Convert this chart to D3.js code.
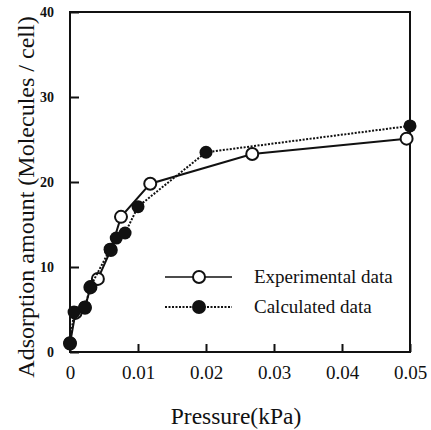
<!DOCTYPE html>
<html>
<head>
<meta charset="utf-8">
<script src="https://cdn.jsdelivr.net/npm/d3@7"></script>
<style>
  body { margin: 0; background: #fff; }
  svg text { font-family: "Liberation Serif", "Times New Roman", Times, serif; fill: #111; }
</style>
</head>
<body>
<div id="chart-area"></div>
<script>
var xTicks = [0, 0.01, 0.02, 0.03, 0.04, 0.05];
var yTicks = [0, 10, 20, 30, 40];

var expPressure = [0, 0.0008, 0.0022, 0.003, 0.0041, 0.006, 0.0075, 0.0118, 0.0268, 0.0495];
var expAmount   = [1.0, 4.6, 5.2, 7.6, 8.6, 12.0, 15.9, 19.8, 23.3, 25.1];

var calcPressure = [0, 0.0006, 0.0022, 0.003, 0.0059, 0.0068, 0.0081, 0.0100, 0.0200, 0.0500];
var calcAmount   = [1.1, 4.7, 5.3, 7.7, 12.1, 13.4, 14.0, 17.1, 23.5, 26.6];

var legendLabels = ["Experimental data", "Calculated data"];

var serif = "'Liberation Serif', 'Times New Roman', Times, serif";

var margin = { left: 70, top: 12, right: 21, bottom: 78 };
var width = 431 - margin.left - margin.right;
var height = 430 - margin.top - margin.bottom;

var x = d3.scaleLinear().domain([0, 0.05]).range([0, width]);
var y = d3.scaleLinear().domain([0, 40]).range([height, 0]);

var svg = d3.select("#chart-area")
  .append("svg")
  .attr("width", 431)
  .attr("height", 430)
  .attr("font-family", serif);

var g = svg.append("g")
  .attr("transform", "translate(" + margin.left + "," + margin.top + ")");

// frame
g.append("rect")
  .attr("width", width)
  .attr("height", height)
  .attr("fill", "none")
  .attr("stroke", "#111")
  .attr("stroke-width", 2);

// inside ticks
var yAxis = d3.axisLeft(y).tickValues(yTicks).tickSize(-9).tickPadding(16)
  .tickFormat(d3.format("d"));
var yg = g.append("g").call(yAxis).attr("font-family", serif);
yg.select(".domain").remove();
yg.selectAll("line").attr("stroke", "#111").attr("stroke-width", 2);
yg.selectAll("text").attr("font-size", 14).attr("font-weight", "bold");

var xAxis = d3.axisBottom(x).tickValues(xTicks).tickSize(-8).tickPadding(14)
  .tickFormat(function(d) { return d === 0 ? "0" : d3.format(".2f")(d); });
var xg = g.append("g").attr("transform", "translate(0," + height + ")").call(xAxis)
  .attr("font-family", serif);
xg.select(".domain").remove();
xg.selectAll("line").attr("stroke", "#111").attr("stroke-width", 2);
xg.selectAll("text").attr("font-size", 19);

// axis titles
svg.append("text")
  .attr("x", 236)
  .attr("y", 424)
  .attr("text-anchor", "middle")
  .attr("font-size", 23.5)
  .text("Pressure(kPa)");

svg.append("text")
  .attr("transform", "translate(34,197) rotate(-90)")
  .attr("text-anchor", "middle")
  .attr("font-size", 24)
  .text("Adsorption amount (Molecules / cell)");

function zip(px, py) {
  return px.map(function(p, i) { return { p: p, v: py[i] }; });
}
var expData = zip(expPressure, expAmount);
var calcData = zip(calcPressure, calcAmount);

var line = d3.line()
  .x(function(d) { return x(d.p); })
  .y(function(d) { return y(d.v); });

// experimental: solid line, open circles
g.append("path")
  .datum(expData)
  .attr("d", line)
  .attr("fill", "none")
  .attr("stroke", "#111")
  .attr("stroke-width", 2);

g.selectAll("circle.exp")
  .data(expData)
  .enter()
  .append("circle")
  .attr("class", "exp")
  .attr("cx", function(d) { return x(d.p); })
  .attr("cy", function(d) { return y(d.v); })
  .attr("r", 6)
  .attr("fill", "#fff")
  .attr("stroke", "#111")
  .attr("stroke-width", 2);

// calculated: dotted line, filled circles
g.append("path")
  .datum(calcData)
  .attr("d", line)
  .attr("fill", "none")
  .attr("stroke", "#111")
  .attr("stroke-width", 2)
  .attr("stroke-dasharray", "2,1.5");

g.selectAll("circle.calc")
  .data(calcData)
  .enter()
  .append("circle")
  .attr("class", "calc")
  .attr("cx", function(d) { return x(d.p); })
  .attr("cy", function(d) { return y(d.v); })
  .attr("r", 6.5)
  .attr("fill", "#111");

// legend
var legend = svg.selectAll(".legend")
  .data(legendLabels)
  .enter()
  .append("g")
  .attr("class", "legend")
  .attr("transform", function(d, i) {
    return "translate(165," + (277 + i * 30) + ")";
  });

legend.append("line")
  .attr("x1", 0)
  .attr("x2", 67)
  .attr("stroke", "#111")
  .attr("stroke-width", function(d, i) { return i === 0 ? 1.5 : 2; })
  .attr("stroke-dasharray", function(d, i) { return i === 0 ? null : "2,1.5"; });

legend.append("circle")
  .attr("cx", 34)
  .attr("r", 6)
  .attr("fill", function(d, i) { return i === 0 ? "#fff" : "#111"; })
  .attr("stroke", "#111")
  .attr("stroke-width", 2);

legend.append("text")
  .attr("x", 89)
  .attr("y", 6)
  .attr("font-size", 19)
  .text(function(d) { return d; });
</script>
</body>
</html>
